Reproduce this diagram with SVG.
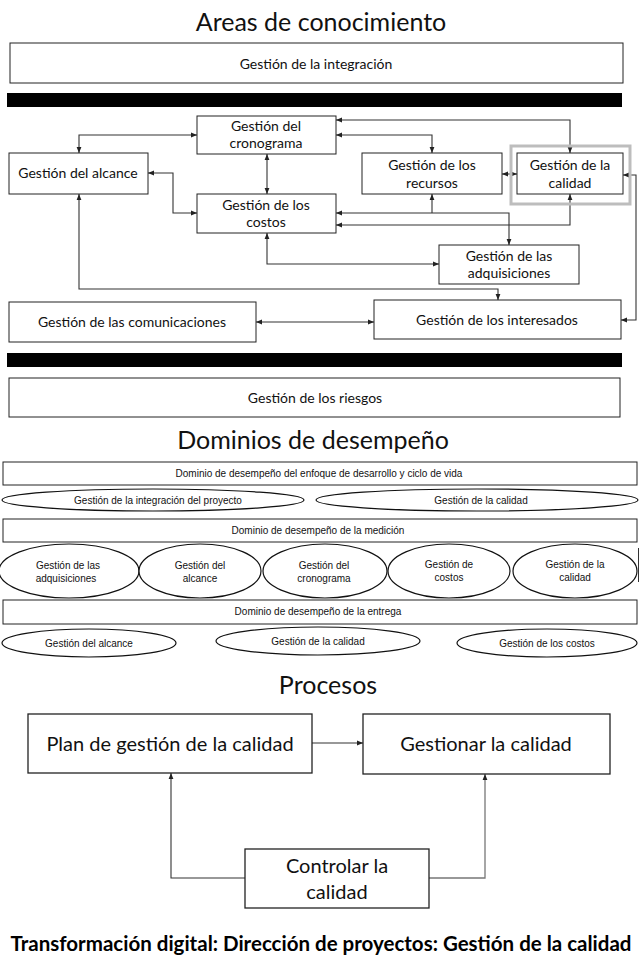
<svg xmlns="http://www.w3.org/2000/svg" width="640" height="968" viewBox="0 0 640 968">
<defs>
<style>
.bg{fill:#fff}
.box{fill:#fff;stroke:#222;stroke-width:1}
.pbox{fill:#fff;stroke:#222;stroke-width:1.3}
.ell{fill:#fff;stroke:#111;stroke-width:1.2}
.bar{fill:#000}
.t{font-family:Lato,"Open Sans","Liberation Sans",sans-serif;font-size:14px;fill:#111;text-anchor:middle}
.title{font-family:Lato,"Open Sans","Liberation Sans",sans-serif;font-size:25px;fill:#111;text-anchor:middle}
.s{font-family:"Liberation Sans",Arial,sans-serif;font-size:10px;fill:#111;text-anchor:middle}
.p{font-family:Lato,"Open Sans","Liberation Sans",sans-serif;font-size:20px;fill:#111;text-anchor:middle}
.foot{font-family:Lato,"Open Sans","Liberation Sans",sans-serif;font-size:20.5px;font-weight:bold;fill:#000;text-anchor:middle}
.c{fill:none;stroke:#333;stroke-width:1.1}
.cg{fill:none;stroke:#777;stroke-width:1.3}
</style>
<marker id="ah" viewBox="0 0 10 10" refX="10" refY="5" markerWidth="6" markerHeight="6" markerUnits="userSpaceOnUse" orient="auto-start-reverse">
<path d="M0,1 L10,5 L0,9 z" fill="#222"/>
</marker>
</defs>
<rect class="bg" x="0" y="0" width="640" height="968"/>

<text class="title" x="321" y="31">Areas de conocimiento</text>
<g id="integracion"><rect class="box" x="10" y="43" width="613" height="40"/><text class="t" x="316" y="69">Gestión de la integración</text></g>
<rect class="bar" x="7" y="93" width="615" height="14"/>

<g id="connectors-areas">
<path class="c" d="M79,153 V135 H197" marker-start="url(#ah)" marker-end="url(#ah)"/>
<path class="c" d="M267,154 V194" marker-start="url(#ah)" marker-end="url(#ah)"/>
<path class="c" d="M148,173 H173 V213 H197" marker-start="url(#ah)" marker-end="url(#ah)"/>
<path class="c" d="M267,233 V264 H439" marker-start="url(#ah)" marker-end="url(#ah)"/>
<path class="c" d="M79,194 V289 H498 V300" marker-start="url(#ah)" marker-end="url(#ah)"/>
<path class="c" d="M570,153 V120 H336" marker-start="url(#ah)" marker-end="url(#ah)"/>
<path class="c" d="M432,153 V135 H336" marker-start="url(#ah)" marker-end="url(#ah)"/>
<path class="c" d="M502,174 H517" marker-start="url(#ah)" marker-end="url(#ah)"/>
<path class="c" d="M432,213 V194" marker-end="url(#ah)"/>
<path class="c" d="M336,213 H509 V245" marker-start="url(#ah)" marker-end="url(#ah)"/>
<path class="c" d="M570,194 V225 H336" marker-start="url(#ah)" marker-end="url(#ah)"/>
<path class="c" d="M623,175 H636 V320 H621" marker-start="url(#ah)" marker-end="url(#ah)"/>
<path class="c" d="M256,322 H374" marker-start="url(#ah)" marker-end="url(#ah)"/>
</g>

<g id="cronograma"><rect class="box" x="197" y="116" width="139" height="38"/><text class="t" x="266" y="131">Gestión del</text><text class="t" x="266" y="148">cronograma</text></g>
<g id="alcance"><rect class="box" x="9" y="153" width="139" height="41"/><text class="t" x="78" y="178">Gestión del alcance</text></g>
<g id="costos"><rect class="box" x="197" y="194" width="139" height="39"/><text class="t" x="266" y="210">Gestión de los</text><text class="t" x="266" y="227">costos</text></g>
<g id="recursos"><rect class="box" x="362" y="153" width="140" height="41"/><text class="t" x="432" y="170">Gestión de los</text><text class="t" x="432" y="188">recursos</text></g>
<g id="calidad"><rect x="511" y="146" width="119" height="58" fill="none" stroke="#bdbdbd" stroke-width="3"/><rect class="box" x="517" y="153" width="106" height="41"/><text class="t" x="570" y="170">Gestión de la</text><text class="t" x="570" y="188">calidad</text></g>
<g id="adquisiciones"><rect class="box" x="439" y="245" width="140" height="39"/><text class="t" x="509" y="261">Gestión de las</text><text class="t" x="509" y="278">adquisiciones</text></g>
<g id="comunicaciones"><rect class="box" x="9" y="302" width="247" height="40"/><text class="t" x="132" y="327">Gestión de las comunicaciones</text></g>
<g id="interesados"><rect class="box" x="374" y="300" width="247" height="39"/><text class="t" x="497" y="325">Gestión de los interesados</text></g>
<rect class="bar" x="7" y="353" width="615" height="14"/>
<g id="riesgos"><rect class="box" x="9" y="378" width="611" height="39"/><text class="t" x="315" y="403">Gestión de los riesgos</text></g>

<text class="title" x="313" y="449">Dominios de desempeño</text>
<g id="d-enfoque"><rect class="box" x="3" y="462" width="634" height="23"/><text class="s" x="319" y="477">Dominio de desempeño del enfoque de desarrollo y ciclo de vida</text></g>
<g id="d1-integracion"><ellipse class="ell" cx="153" cy="500" rx="151" ry="11"/><text class="s" x="158" y="504">Gestión de la integración del proyecto</text></g>
<g id="d1-calidad"><ellipse class="ell" cx="477" cy="500" rx="161" ry="11"/><text class="s" x="481" y="504">Gestión de la calidad</text></g>
<g id="d-medicion"><rect class="box" x="3" y="519" width="634" height="23"/><text class="s" x="318" y="534">Dominio de desempeño de la medición</text></g>
<g id="d2-adquisiciones"><ellipse class="ell" cx="69" cy="571" rx="70" ry="27"/><text class="s" x="68" y="569">Gestión de las</text><text class="s" x="66" y="582">adquisiciones</text></g>
<g id="d2-alcance"><ellipse class="ell" cx="200" cy="571" rx="61" ry="27"/><text class="s" x="200" y="569">Gestión del</text><text class="s" x="200" y="582">alcance</text></g>
<g id="d2-cronograma"><ellipse class="ell" cx="325" cy="571" rx="62" ry="27"/><text class="s" x="324" y="569">Gestión del</text><text class="s" x="324" y="582">cronograma</text></g>
<g id="d2-costos"><ellipse class="ell" cx="449" cy="571" rx="61" ry="27"/><text class="s" x="449" y="568">Gestión de</text><text class="s" x="449" y="581">costos</text></g>
<g id="d2-calidad"><ellipse class="ell" cx="575" cy="571" rx="62" ry="27"/><text class="s" x="575" y="568">Gestión de la</text><text class="s" x="575" y="581">calidad</text></g>
<line x1="638.5" y1="548" x2="638.5" y2="582" stroke="#333" stroke-width="1"/>
<g id="d-entrega"><rect class="box" x="3" y="600" width="634" height="24"/><text class="s" x="318" y="615">Dominio de desempeño de la entrega</text></g>
<g id="d3-alcance"><ellipse class="ell" cx="89" cy="643" rx="87" ry="14"/><text class="s" x="89" y="647">Gestión del alcance</text></g>
<g id="d3-calidad"><ellipse class="ell" cx="318" cy="641" rx="102" ry="14"/><text class="s" x="318" y="645">Gestión de la calidad</text></g>
<g id="d3-costos"><ellipse class="ell" cx="547" cy="643" rx="90" ry="14"/><text class="s" x="547" y="647">Gestión de los costos</text></g>

<text class="title" x="328" y="694">Procesos</text>
<g id="connectors-procesos">
<path class="c" d="M312,743 H363" marker-end="url(#ah)"/>
<path class="c" d="M245,878 H171 V773" marker-end="url(#ah)"/>
<path class="cg" d="M429,878 H485 V774" marker-end="url(#ah)"/>
</g>
<g id="plan"><rect class="pbox" x="28" y="714" width="284" height="59"/><text class="p" x="170" y="751">Plan de gestión de la calidad</text></g>
<g id="gestionar"><rect class="pbox" x="363" y="714" width="247" height="60"/><text class="p" x="486" y="751">Gestionar la calidad</text></g>
<g id="controlar"><rect class="pbox" x="245" y="849" width="184" height="59"/><text class="p" x="337" y="873">Controlar la</text><text class="p" x="337" y="899">calidad</text></g>

<text class="foot" x="321" y="951">Transformación digital: Dirección de proyectos: Gestión de la calidad</text>
</svg>
